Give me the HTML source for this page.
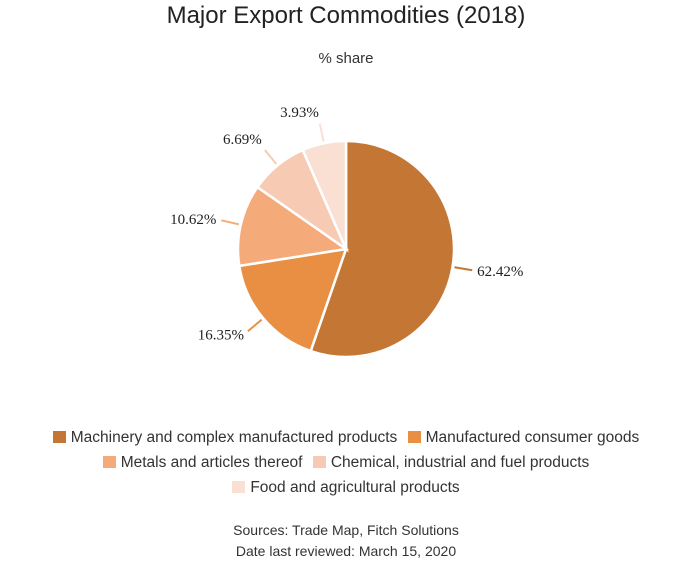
<!DOCTYPE html>
<html><head><meta charset="utf-8">
<style>
body{margin:0;background:#fff;width:692px;height:588px;overflow:hidden;font-family:"Liberation Sans",sans-serif;}
.t{position:absolute;left:0;width:692px;text-align:center;color:#222;}
.leg{position:absolute;left:0;width:692px;text-align:center;font-size:15.5px;color:#333;}
.it{display:inline-block;margin:0 3px;}
.sw{display:inline-block;width:13px;height:12px;margin-right:5px;vertical-align:-1px;}
</style></head><body>
<div class="t" style="top:2px;font-size:24px;">Major Export Commodities (2018)</div>
<div class="t" style="top:50px;font-size:15px;color:#333;">% share</div>
<svg id="pie" width="692" height="400" style="position:absolute;left:0;top:0"></svg>
<div class="leg" style="top:429px">
<span class="it"><span class="sw" style="background:#c47735"></span>Machinery and complex manufactured products</span>
<span class="it"><span class="sw" style="background:#e88f43"></span>Manufactured consumer goods</span></div>
<div class="leg" style="top:454px">
<span class="it"><span class="sw" style="background:#f5aa79"></span>Metals and articles thereof</span>
<span class="it"><span class="sw" style="background:#f7cbb3"></span>Chemical, industrial and fuel products</span></div>
<div class="leg" style="top:479px">
<span class="it"><span class="sw" style="background:#fadfd3"></span>Food and agricultural products</span></div>
<div class="t" style="top:522px;font-size:14px;color:#333;">Sources: Trade Map, Fitch Solutions</div>
<div class="t" style="top:543px;font-size:14px;color:#333;">Date last reviewed: March 15, 2020</div>
<script>
const categories=["Machinery and complex manufactured products","Manufactured consumer goods","Metals and articles thereof","Chemical, industrial and fuel products","Food and agricultural products"];
const values=[55.3,17.2,12.2,8.75,6.55];
const valueLabels=["62.42%","16.35%","10.62%","6.69%","3.93%"];
const colors=["#c47735","#e88f43","#f5aa79","#f7cbb3","#fadfd3"];
const svg=document.getElementById('pie');
const NS="http://www.w3.org/2000/svg";
const cx=346,cy=249,R=108;
const total=values.reduce((a,b)=>a+b,0);
function pt(a,r){return [cx+r*Math.sin(a),cy-r*Math.cos(a)];}
let a0=0;
values.forEach((v,i)=>{
  const a1=a0+v/total*2*Math.PI;
  const p0=pt(a0,R),p1=pt(a1,R);
  const large=(a1-a0)>Math.PI?1:0;
  const path=document.createElementNS(NS,'path');
  path.setAttribute('d',`M${cx},${cy}L${p0[0]},${p0[1]}A${R},${R} 0 ${large} 1 ${p1[0]},${p1[1]}Z`);
  path.setAttribute('fill',colors[i]);
  path.setAttribute('stroke','#fff');
  path.setAttribute('stroke-width','2.5');
  
  
  svg.appendChild(path);
  const m=(a0+a1)/2;
  const l0=pt(m,R+2),l1=pt(m,R+20);
  const ln=document.createElementNS(NS,'line');
  ln.setAttribute('x1',l0[0]);ln.setAttribute('y1',l0[1]);ln.setAttribute('x2',l1[0]);ln.setAttribute('y2',l1[1]);
  ln.setAttribute('stroke',colors[i]);ln.setAttribute('stroke-width','2');
  
  
  svg.appendChild(ln);
  const lp=pt(m,R+25);
  const tx=document.createElementNS(NS,'text');
  const right=Math.sin(m)>=0;
  tx.setAttribute('x',right?lp[0]:lp[0]);
  tx.setAttribute('y',lp[1]+(Math.cos(m)>0.3?-2:5));
  tx.setAttribute('text-anchor',right?'start':'end');
  tx.setAttribute('font-family','Liberation Serif, serif');
  tx.setAttribute('font-size','15');
  tx.setAttribute('fill','#222');
  tx.textContent=valueLabels[i];
  
  
  svg.appendChild(tx);
  a0=a1;
});
</script>
</body></html>
